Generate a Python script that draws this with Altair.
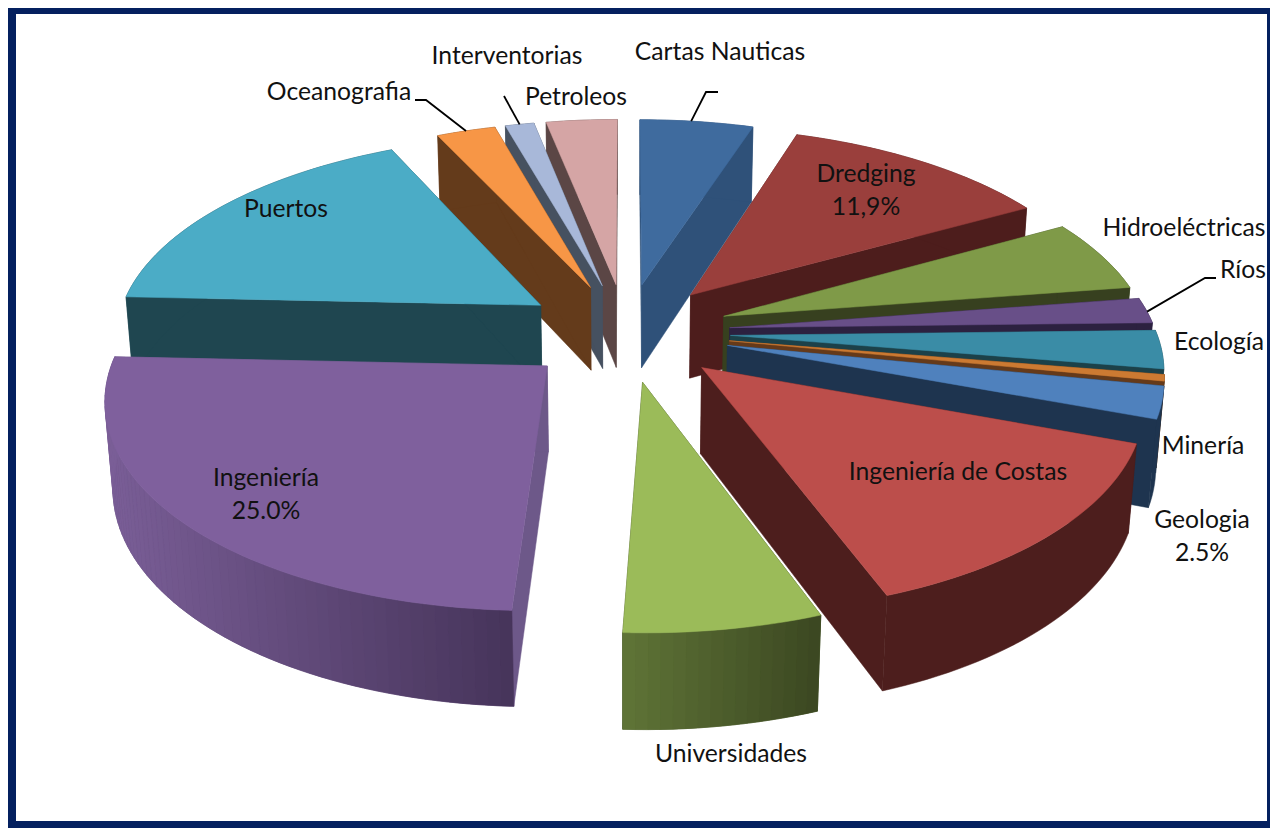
import altair as alt
import numpy as np
import pandas as pd

# ---- chart values (share of the pie, %), clockwise from twelve o'clock
slices = ["Cartas Nauticas", "Dredging", "Hidroeléctricas", "Ríos", "Ecología", "Minería", "Geologia",
          "Ingeniería de Costas", "Universidades", "Ingeniería", "Puertos", "Oceanografia",
          "Interventorias", "Petroleos"]
shares = [5.0, 11.9, 5.7, 2.0, 3.0, 0.5, 2.5, 13.8, 6.3, 25.0, 17.3, 2.6, 1.27, 3.13]

# ---- styles
top_colors = ["#3f6b9e", "#9a3f3c", "#7f9a48", "#684f88", "#3a8ca6", "#cc7a32", "#4f81bd",
              "#bc4e4b", "#9bbb59", "#7f609d", "#4bacc6", "#f79646", "#a8b8d9", "#d5a5a5"]
side_colors = ["#2f5179", "#4d1d1c", "#37401f", "#2c2140", "#1c4149", "#653a1a", "#1e344f",
               "#4d1e1d", "#37401f", "#6d5889", "#1f4650", "#643b1b", "#465160", "#5b4645"]
wall_left = ["#2f5179", "#4d1d1c", "#37401f", "#2c2140", "#1c4149", "#653a1a", "#1e344f",
             "#4d1e1d", "#5f7437", "#7a5e97", "#1f4650", "#643b1b", "#465160", "#5b4645"]
wall_right = ["#2f5179", "#4d1d1c", "#37401f", "#2c2140", "#1c4149", "#653a1a", "#1e344f",
              "#4d1e1d", "#3b4721", "#46345a", "#1f4650", "#643b1b", "#465160", "#5b4645"]
paint_order = [0, 1, 2, 3, 4, 5, 6, 7, 13, 12, 11, 10, 9, 8]

EXPLODE = 0.245
CX, CY, AX, BY, PERSP, DEPTH, SHRINK = 626, 332, 426, 200.4, 0.139, 86, 0.015


def project(u, v, w):
    s = 1 + PERSP * v + SHRINK * w
    return CX + AX * u / s, CY + (-BY * v + DEPTH * w) / s


def mix(a, b, t):
    ca = [int(a[i:i + 2], 16) for i in (1, 3, 5)]
    cb = [int(b[i:i + 2], 16) for i in (1, 3, 5)]
    return "#" + "".join(f"{round(x + (y - x) * t):02x}" for x, y in zip(ca, cb))


edges = np.concatenate([[0], np.cumsum(shares)]) / np.sum(shares) * 2 * np.pi
rows = []
poly_id = 0


def add_poly(points, color):
    global poly_id
    poly_id += 1
    pts = list(points) + [points[0]]
    for i, (x, y) in enumerate(pts):
        rows.append({"x": x, "y": y, "poly": poly_id, "i": i, "c": color})


def plane(idx, a, r=1.0):
    mid = (edges[idx] + edges[idx + 1]) / 2
    return EXPLODE * np.sin(mid) + r * np.sin(a), EXPLODE * np.cos(mid) + r * np.cos(a)


for idx in paint_order:
    a0, a1 = edges[idx], edges[idx + 1]
    n = max(int(np.degrees(a1 - a0) / 1.5) + 2, 3)
    arc = np.linspace(a0, a1, n)
    apex = plane(idx, 0, 0)
    for a in (a0, a1):
        rim = plane(idx, a)
        add_poly([project(*apex, 0), project(*rim, 0), project(*rim, 1), project(*apex, 1)], side_colors[idx])
    add_poly([project(*plane(idx, a), 0) for a in arc] + [project(*plane(idx, a), 1) for a in arc[::-1]],
             mix(wall_left[idx], wall_right[idx], 0.5))
    if wall_left[idx] != wall_right[idx]:
        xs = [project(*plane(idx, a), 1)[0] for a in arc]
        lo, hi = min(xs), max(xs)
        for a, b in zip(arc[:-1], arc[1:]):
            pa, pb = plane(idx, a), plane(idx, b)
            t = ((project(*pa, 1)[0] + project(*pb, 1)[0]) / 2 - lo) / (hi - lo)
            add_poly([project(*pa, 0), project(*pb, 0), project(*pb, 1), project(*pa, 1)],
                     mix(wall_left[idx], wall_right[idx], t))
    add_poly([project(*apex, 0)] + [project(*plane(idx, a), 0) for a in arc], top_colors[idx])

faces = pd.DataFrame(rows)

labels = pd.DataFrame({
    "text": ["Cartas Nauticas", "Interventorias", "Petroleos", "Oceanografia", "Dredging\n11,9%",
             "Hidroeléctricas", "Ríos", "Ecología", "Minería", "Geologia\n2.5%",
             "Ingeniería de Costas", "Universidades", "Ingeniería\n25.0%", "Puertos"],
    "x": [720, 507, 576, 339, 866, 1184, 1243, 1219, 1203, 1202, 958, 731, 266, 286],
    "y": [53, 57, 98, 93, 175, 229, 271, 343, 447, 521, 473, 755, 479, 210],
})

# leader lines: from the rim of a slice to an elbow and the label end
leaders = []
for name, frac, elbow, end in [("Cartas Nauticas", 0.45, (706, 92), (718, 92)),
                               ("Ríos", 0.55, (1205, 278), (1216, 278)),
                               ("Oceanografia", 0.5, (426, 100), (415, 100)),
                               ("Interventorias", 0.5, (504, 96), None)]:
    k = slices.index(name)
    rim = project(*plane(k, edges[k] + frac * (edges[k + 1] - edges[k])), 0)
    pts = [rim, elbow] + ([end] if end else [])
    for i, (x, y) in enumerate(pts):
        leaders.append({"x": x, "y": y, "name": name, "i": i})
leaders = pd.DataFrame(leaders)

X = alt.X("x:Q", scale=alt.Scale(domain=[8, 1270]), axis=None)
Y = alt.Y("y:Q", scale=alt.Scale(domain=[828, 8]), axis=None)

frame = pd.DataFrame({"x": [8, 16], "x2": [1270, 1267], "y": [8, 14], "y2": [828, 821],
                      "c": ["#04205f", "#ffffff"]})
frame_layer = alt.Chart(frame).mark_rect().encode(
    x=X, x2="x2:Q", y=Y, y2="y2:Q", fill=alt.Fill("c:N", scale=None))

face_layer = alt.Chart(faces).mark_line(strokeWidth=0.5, strokeJoin="round").encode(
    x=X, y=Y, order="i:Q", detail="poly:N",
    fill=alt.Fill("c:N", scale=None), stroke=alt.Stroke("c:N", scale=None))

leader_layer = alt.Chart(leaders).mark_line(color="#000000", strokeWidth=1.8).encode(
    x=X, y=Y, order="i:Q", detail="name:N")

text_layer = alt.Chart(labels).mark_text(font="Lato", fontSize=24.7, color="#111111", align="center",
                                         baseline="middle", lineBreak="\n", lineHeight=33).encode(
    x=X, y=Y, text="text:N")

chart = alt.layer(frame_layer, face_layer, leader_layer, text_layer).properties(
    width=1262, height=820, padding=0, autosize=alt.AutoSizeParams(type="none"),
    background="#ffffff").configure_view(stroke=None)

chart.save("out.html", embed_options={"renderer": "svg", "actions": False})
